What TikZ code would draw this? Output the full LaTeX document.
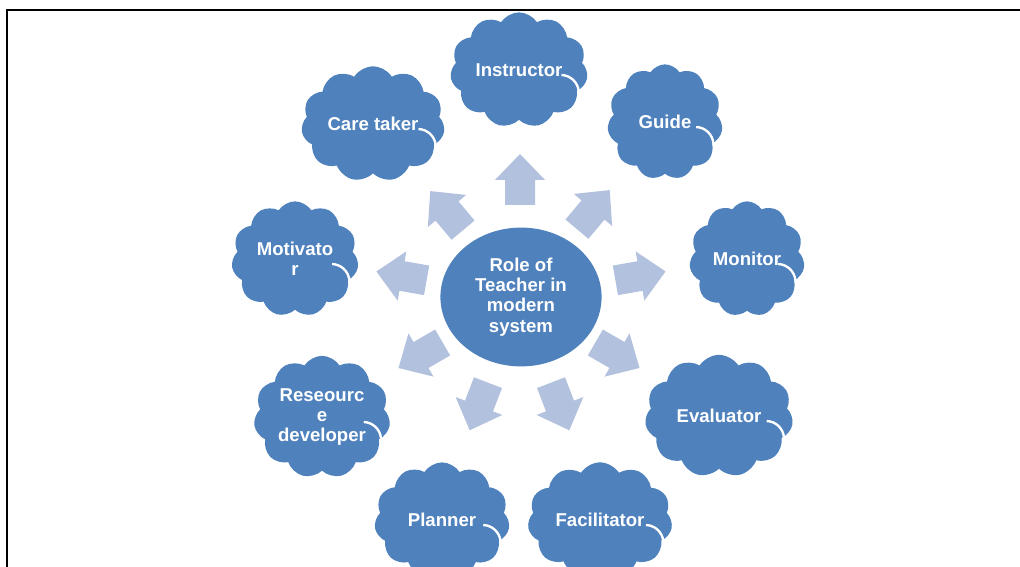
\documentclass[tikz,border=0pt]{standalone}
\usepackage{fontspec}
\setmainfont{Liberation Sans}
\usetikzlibrary{shapes.symbols,shapes.geometric}
\definecolor{cloudblue}{RGB}{79,129,189}
\definecolor{arrowblue}{RGB}{178,193,221}
\tikzset{
  role/.style={cloud, cloud puffs=11, cloud puff arc=115, fill=cloudblue,
    text=white, font=\bfseries\fontsize{15.8}{17.3}\selectfont, align=center,
    inner sep=-25pt, minimum width=115pt, minimum height=98pt},
  hub/.style={ellipse, fill=cloudblue, text=white,
    font=\bfseries\fontsize{15.8}{17.3}\selectfont, align=center,
    inner sep=0pt, minimum width=137pt, minimum height=118pt}
}
\begin{document}
\begin{tikzpicture}[x=0.85pt, y=-0.85pt]
    \useasboundingbox (0,0) rectangle (1020,567);
    % frame
    \draw[line width=1.7pt] (7,567) -- (7,10) -- (1020,10);
    % centre
    \node[hub] (role) at (521,297) {Role of\\Teacher in\\modern\\system};
    % arrows
    \foreach \px/\py/\ang in {520/180/90, 447/211/130, 593/210/50,
        402/276/170, 640/276/10, 421/355/210, 617/355/-30,
        479/406/249, 560/406/-69}{
        \fill[arrowblue, shift={(\px,\py)}, rotate=\ang]
            (-25,-15) -- (0,-15) -- (0,-25) -- (26,0) -- (0,25) -- (0,15) -- (-25,15) -- cycle;
    }
    % roles
    \node[role, minimum width=117pt] (instructor) at (519,70) {Instructor};
    \node[role, minimum width=98pt] (guide) at (665,122) {Guide};
    \node[role, minimum width=122pt] (caretaker) at (373,124) {Care taker};
    \node[role, minimum width=98pt] (monitor) at (747,259) {Monitor};
    \node[role, minimum width=108pt] (motivator) at (295,259) {Motivato\\r};
    \node[role, minimum width=126pt, minimum height=104pt] (evaluator) at (719,416) {Evaluator};
    \node[role, minimum width=116pt, minimum height=104pt] (resource) at (322,417) {Reseourc\\e\\developer};
    \node[role, minimum width=123pt] (facilitator) at (600,520) {Facilitator};
    \node[role, minimum width=115pt] (planner) at (442,520) {Planner};
    % white puff lines
    \foreach \n in {instructor, guide, caretaker, monitor, motivator,
        evaluator, resource, facilitator, planner}{
        \draw[white, line width=2pt] ([shift={(-26,23)}]\n.east) ++(88:15.3pt)
            arc[start angle=88, end angle=5, radius=15.3pt];
    }
\end{tikzpicture}
\end{document}
